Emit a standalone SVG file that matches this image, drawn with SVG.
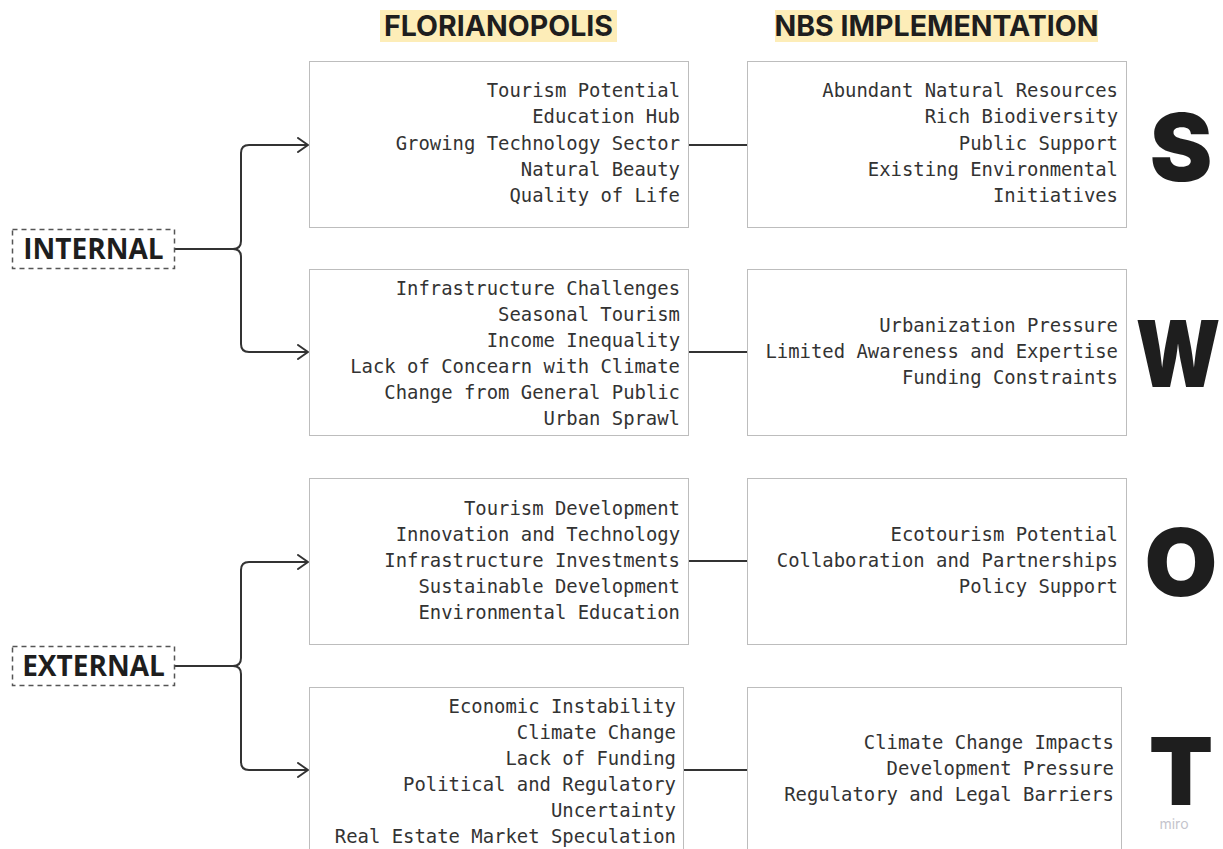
<svg xmlns="http://www.w3.org/2000/svg" width="1223" height="849" viewBox="0 0 1223 849">
  <defs>
    <marker id="chev" viewBox="0 0 12 16" refX="11" refY="8" markerWidth="12" markerHeight="16" markerUnits="userSpaceOnUse" orient="auto">
      <path d="M1,1 L11,8 L1,15" fill="none" stroke="#333" stroke-width="2" stroke-linecap="round" stroke-linejoin="round"/>
    </marker>
    <style>
      .box { fill: #fff; stroke: #7a7a7a; stroke-width: 1; stroke-dasharray: 1 1; }
      .tag { fill: #fff; stroke: #555; stroke-width: 1.5; stroke-dasharray: 5 4; }
      .item { font-family: "DejaVu Sans Mono", "Liberation Mono", monospace; font-size: 18.9px; fill: #333; text-anchor: end; }
      .head { font-family: Inter, "Liberation Sans", sans-serif; font-weight: 700; font-size: 28.5px; fill: #1e1e1e; }
      .hl { fill: #fdedb8; }
      .side { font-family: "Open Sans", "Liberation Sans", sans-serif; font-weight: 700; font-size: 28px; fill: #1e1e1e; }
      .big { font-family: Inter, "Liberation Sans", sans-serif; font-weight: 900; font-size: 94px; fill: #1e1e1e; text-anchor: middle; }
      .wire { fill: none; stroke: #333; stroke-width: 2; }
    </style>
  </defs>

  <rect width="1223" height="849" fill="#fff"/>

  <!-- column headings -->
  <g id="head-florianopolis">
    <rect class="hl" x="380" y="10" width="237" height="32"/>
    <text class="head" x="498.5" y="36" text-anchor="middle">FLORIANOPOLIS</text>
  </g>
  <g id="head-nbs">
    <rect class="hl" x="775" y="10" width="323" height="32"/>
    <text class="head" x="936.5" y="36" text-anchor="middle">NBS IMPLEMENTATION</text>
  </g>

  <!-- connectors -->
  <g id="connectors">
    <path class="wire" d="M175,249 H233 Q241,249 241,241 V153 Q241,145 249,145 H308" marker-end="url(#chev)"/>
    <path class="wire" d="M233,249 Q241,249 241,257 V344 Q241,352 249,352 H308" marker-end="url(#chev)"/>
    <path class="wire" d="M175,666 H233 Q241,666 241,658 V570 Q241,562 249,562 H308" marker-end="url(#chev)"/>
    <path class="wire" d="M233,666 Q241,666 241,674 V762 Q241,770 249,770 H308" marker-end="url(#chev)"/>
    <line class="wire" x1="689" y1="145" x2="747" y2="145"/>
    <line class="wire" x1="689" y1="352" x2="747" y2="352"/>
    <line class="wire" x1="689" y1="561" x2="747" y2="561"/>
    <line class="wire" x1="684" y1="770" x2="747" y2="770"/>
  </g>

  <!-- group labels -->
  <g id="internal">
    <rect class="tag" x="12.5" y="229.5" width="162" height="39"/>
    <text class="side" x="93.5" y="259" text-anchor="middle">INTERNAL</text>
  </g>
  <g id="external">
    <rect class="tag" x="12.5" y="646.5" width="162" height="39"/>
    <text class="side" x="93.5" y="676" text-anchor="middle">EXTERNAL</text>
  </g>

  <!-- strengths -->
  <g id="s-local">
    <rect class="box" x="309.5" y="61.5" width="379" height="166"/>
    <text class="item" x="680" y="97">Tourism Potential</text>
    <text class="item" x="680" y="123">Education Hub</text>
    <text class="item" x="680" y="149.5">Growing Technology Sector</text>
    <text class="item" x="680" y="175.5">Natural Beauty</text>
    <text class="item" x="680" y="201.5">Quality of Life</text>
  </g>
  <g id="s-nbs">
    <rect class="box" x="747.5" y="61.5" width="379" height="166"/>
    <text class="item" x="1118" y="97">Abundant Natural Resources</text>
    <text class="item" x="1118" y="123">Rich Biodiversity</text>
    <text class="item" x="1118" y="149.5">Public Support</text>
    <text class="item" x="1118" y="175.5">Existing Environmental</text>
    <text class="item" x="1118" y="201.5">Initiatives</text>
  </g>

  <!-- weaknesses -->
  <g id="w-local">
    <rect class="box" x="309.5" y="269.5" width="379" height="166"/>
    <text class="item" x="680" y="295">Infrastructure Challenges</text>
    <text class="item" x="680" y="321">Seasonal Tourism</text>
    <text class="item" x="680" y="347">Income Inequality</text>
    <text class="item" x="680" y="373">Lack of Concearn with Climate</text>
    <text class="item" x="680" y="399">Change from General Public</text>
    <text class="item" x="680" y="425">Urban Sprawl</text>
  </g>
  <g id="w-nbs">
    <rect class="box" x="747.5" y="269.5" width="379" height="166"/>
    <text class="item" x="1118" y="332">Urbanization Pressure</text>
    <text class="item" x="1118" y="358">Limited Awareness and Expertise</text>
    <text class="item" x="1118" y="384">Funding Constraints</text>
  </g>

  <!-- opportunities -->
  <g id="o-local">
    <rect class="box" x="309.5" y="478.5" width="379" height="166"/>
    <text class="item" x="680" y="515">Tourism Development</text>
    <text class="item" x="680" y="541">Innovation and Technology</text>
    <text class="item" x="680" y="567">Infrastructure Investments</text>
    <text class="item" x="680" y="593">Sustainable Development</text>
    <text class="item" x="680" y="619">Environmental Education</text>
  </g>
  <g id="o-nbs">
    <rect class="box" x="747.5" y="478.5" width="379" height="166"/>
    <text class="item" x="1118" y="541">Ecotourism Potential</text>
    <text class="item" x="1118" y="567">Collaboration and Partnerships</text>
    <text class="item" x="1118" y="593">Policy Support</text>
  </g>

  <!-- threats -->
  <g id="t-local">
    <rect class="box" x="309.5" y="687.5" width="374" height="170"/>
    <text class="item" x="676" y="713">Economic Instability</text>
    <text class="item" x="676" y="739">Climate Change</text>
    <text class="item" x="676" y="765">Lack of Funding</text>
    <text class="item" x="676" y="791">Political and Regulatory</text>
    <text class="item" x="676" y="817">Uncertainty</text>
    <text class="item" x="676" y="843">Real Estate Market Speculation</text>
  </g>
  <g id="t-nbs">
    <rect class="box" x="747.5" y="687.5" width="374" height="170"/>
    <text class="item" x="1114" y="749">Climate Change Impacts</text>
    <text class="item" x="1114" y="775">Development Pressure</text>
    <text class="item" x="1114" y="801">Regulatory and Legal Barriers</text>
  </g>

  <!-- SWOT letters -->
  <g id="letters">
    <text class="big" x="1181" y="181">S</text>
    <text class="big" transform="translate(1178,387) scale(0.85,1)" style="font-size:92px">W</text>
    <text class="big" x="1181" y="596">O</text>
    <text class="big" x="1181" y="805">T</text>
  </g>
  <text x="1174" y="829" font-family="Inter, 'Liberation Sans', sans-serif" font-size="14" fill="#c4c4cc" text-anchor="middle">miro</text>
</svg>
